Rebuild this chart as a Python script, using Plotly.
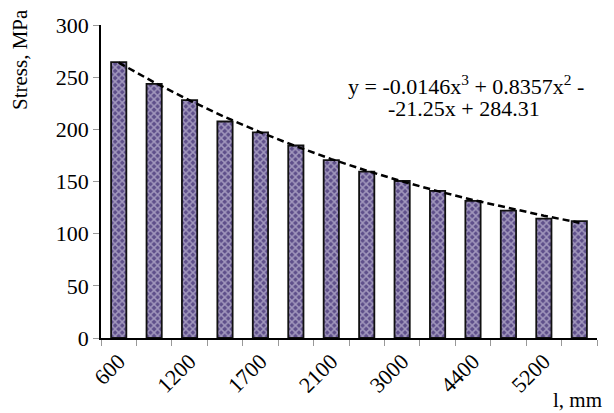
import plotly.graph_objects as go

# Data
positions = list(range(1, 15))
stress = [264.5, 243.5, 228, 207.5, 197, 184.5, 170.5, 159.5, 150.5, 141, 131.5, 122, 114.5, 112]
tick_positions = [1, 3, 5, 7, 9, 11, 13]
tick_labels = ["600", "1200", "1700", "2100", "3000", "4400", "5200"]
trend_coeffs = [-0.0146, 0.8357, -21.25, 284.31]  # cubic, from the chart's equation

trend = [trend_coeffs[0] * x**3 + trend_coeffs[1] * x**2 + trend_coeffs[2] * x + trend_coeffs[3] for x in positions]

FONT = "Liberation Serif, Times New Roman, serif"
FS = 21

fig = go.Figure()
fig.add_trace(go.Bar(
    x=positions, y=stress, width=0.43,
    marker=dict(
        color="#5c4d88",
        line=dict(color="#111111", width=1.8),
        pattern=dict(shape="x", fgcolor="#e6e1f0", bgcolor="#5e4f8a", size=5, solidity=0.5),
    ),
    showlegend=False,
))
fig.add_trace(go.Scatter(
    x=positions, y=trend, mode="lines",
    line=dict(color="black", width=2.5, dash="7px,4px"),
    showlegend=False,
))

# page body adds an 8px offset; figure is sized to fit the 614x413 window
# plot area in page pixels: x 101..597, y 25..338
fig.update_layout(
    width=606, height=405,
    margin=dict(l=93, r=17, t=17, b=75, autoexpand=False),
    paper_bgcolor="white", plot_bgcolor="white",
    font=dict(family=FONT, size=FS, color="black"),
)
fig.update_xaxes(
    range=[0.5, 14.5],
    tickvals=tick_positions, ticktext=tick_labels, tickangle=-45,
    ticks="", showline=True, linecolor="black", linewidth=1.5,
    showgrid=False, zeroline=False,
    minor=dict(ticks="outside", tick0=0.5, dtick=1, ticklen=6, tickcolor="#999999", tickwidth=1),
    tickfont=dict(family=FONT, size=22),
)
fig.update_yaxes(
    range=[0, 300], dtick=50,
    ticks="outside", ticklen=6, tickcolor="#999999", tickwidth=1,
    showline=True, linecolor="black", linewidth=1.5,
    showgrid=False, zeroline=False,
    tickfont=dict(family=FONT, size=22),
)

PH = 313.0
PW = 496.0
fig.add_annotation(
    text="Stress, MPa", textangle=-90, xref="paper", yref="paper",
    x=(20 - 101) / PW, y=(338 - 60) / PH, showarrow=False, font=dict(family=FONT, size=FS),
    xanchor="center", yanchor="middle",
)
fig.add_annotation(
    text="l, mm", xref="paper", yref="paper",
    x=(577 - 101) / PW, y=(338 - 400) / PH, showarrow=False, font=dict(family=FONT, size=FS),
    xanchor="center", yanchor="middle",
)
fig.add_annotation(
    text="y = -0.0146x<sup>3</sup> + 0.8357x<sup>2</sup> -",
    xref="paper", yref="paper", x=(466 - 101) / PW, y=(338 - 85) / PH,
    showarrow=False, font=dict(family=FONT, size=22),
    xanchor="center", yanchor="middle",
)
fig.add_annotation(
    text="-21.25x + 284.31",
    xref="paper", yref="paper", x=(464 - 101) / PW, y=(338 - 108) / PH,
    showarrow=False, font=dict(family=FONT, size=22),
    xanchor="center", yanchor="middle",
)

fig.write_html("out.html")
